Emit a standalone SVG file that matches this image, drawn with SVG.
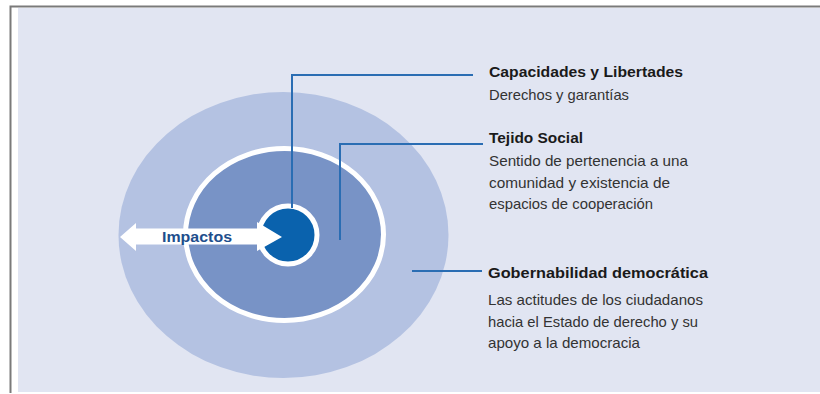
<svg xmlns="http://www.w3.org/2000/svg" width="820" height="394" viewBox="0 0 820 394">
  <style>
    .title { font-family: "Liberation Sans", Arial, sans-serif; font-weight: bold; font-size: 15.5px; fill: #1a1a1a; }
    .body { font-family: "Liberation Sans", Arial, sans-serif; font-size: 14.8px; fill: #333333; }
    .conn { fill: none; stroke: #2a6db3; stroke-width: 2; }
  </style>
  <rect x="0" y="0" width="820" height="394" fill="#ffffff"/>
  <rect x="18" y="8" width="802" height="384" fill="#e1e5f2"/>
  <path d="M10.5,393 L10.5,6.5 L820,6.5" fill="none" stroke="#7a7a7a" stroke-width="2"/>

  <g id="gobernabilidad">
    <ellipse cx="283.5" cy="235" rx="165" ry="143" fill="#b4c2e2"/>
  </g>
  <g id="tejido-social">
    <ellipse cx="284.5" cy="234.5" rx="99" ry="86" fill="#7893c6" stroke="#ffffff" stroke-width="5"/>
  </g>
  <g id="capacidades">
    <circle cx="288" cy="235" r="29" fill="#0a62ad" stroke="#ffffff" stroke-width="5"/>
  </g>
  <g id="impactos">
    <path d="M120,237 L136,223 L136,228.5 L257,228.5 L257,222 L282,237 L257,251 L257,244.5 L136,244.5 L136,251 Z" fill="#ffffff"/>
    <text x="162" y="242" font-family="Liberation Sans, Arial, sans-serif" font-weight="bold" font-size="15" fill="#1e4e8c" textLength="70" lengthAdjust="spacingAndGlyphs">Impactos</text>
  </g>

  <g id="connectors">
    <path class="conn" d="M292,208 L292,75 L473,75"/>
    <path class="conn" d="M340,240 L340,144 L483,144"/>
    <path class="conn" d="M412,271 L482,271"/>
  </g>

  <g id="label-capacidades">
    <text class="title" x="489" y="77" textLength="194" lengthAdjust="spacingAndGlyphs">Capacidades y Libertades</text>
    <text class="body" x="489" y="100" textLength="140" lengthAdjust="spacingAndGlyphs">Derechos y garantías</text>
  </g>
  <g id="label-tejido">
    <text class="title" x="489" y="143" textLength="94" lengthAdjust="spacingAndGlyphs">Tejido Social</text>
    <text class="body" x="489" y="166" textLength="199" lengthAdjust="spacingAndGlyphs">Sentido de pertenencia a una</text>
    <text class="body" x="489" y="188" textLength="181" lengthAdjust="spacingAndGlyphs">comunidad y existencia de</text>
    <text class="body" x="489" y="209" textLength="164" lengthAdjust="spacingAndGlyphs">espacios de cooperación</text>
  </g>
  <g id="label-gobernabilidad">
    <text class="title" x="488" y="278" textLength="220" lengthAdjust="spacingAndGlyphs">Gobernabilidad democrática</text>
    <text class="body" x="488" y="305" textLength="215" lengthAdjust="spacingAndGlyphs">Las actitudes de los ciudadanos</text>
    <text class="body" x="488" y="327" textLength="210" lengthAdjust="spacingAndGlyphs">hacia el Estado de derecho y su</text>
    <text class="body" x="488" y="348" textLength="152" lengthAdjust="spacingAndGlyphs">apoyo a la democracia</text>
  </g>
</svg>
